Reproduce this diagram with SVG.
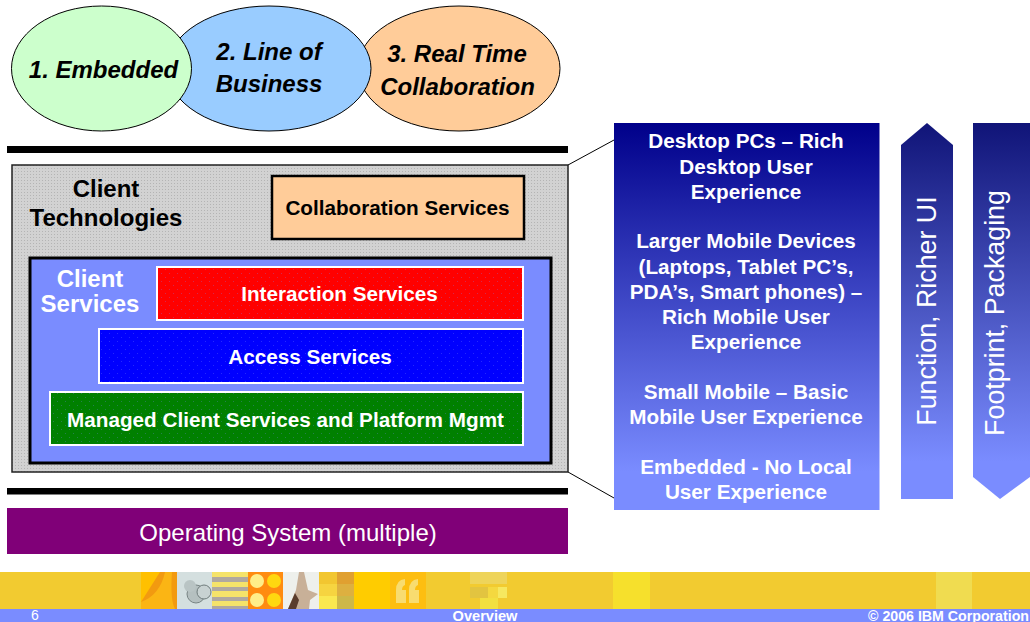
<svg xmlns="http://www.w3.org/2000/svg" width="1030" height="622" viewBox="0 0 1030 622">
<style>
text{font-family:"Liberation Sans",Arial,sans-serif;text-anchor:middle}
.b{font-weight:700}
.bi{font-weight:700;font-style:italic;font-size:24px;fill:#000}
.w{fill:#fff}
.k{fill:#000}
.ell{stroke:#000;stroke-width:1}
.svc{stroke:#fff;stroke-width:2}
.pt{font-size:20.7px;font-weight:700;fill:#fff}
.rot{font-size:26.8px;fill:#fff}
.sp{fill:url(#speck)}
</style>
<defs>
<pattern id="gray" width="3" height="3" patternUnits="userSpaceOnUse"><rect width="3" height="3" fill="#d2d2d2"/><rect width="1" height="1" fill="#b4b4b4"/></pattern>
<pattern id="speck" width="8" height="8" patternUnits="userSpaceOnUse"><rect x="1" y="1" width="1" height="1" fill="#7a86ff" fill-opacity=".3"/><rect x="5" y="5" width="1" height="1" fill="#7a86ff" fill-opacity=".3"/></pattern>
<linearGradient id="grad" x1="0" y1="0" x2="0" y2="1"><stop offset="0" stop-color="#00008a"/><stop offset="0.9" stop-color="#7a8cff"/><stop offset="1" stop-color="#7a8cff"/></linearGradient>
<linearGradient id="grad2" x1="0" y1="0" x2="0" y2="1"><stop offset="0" stop-color="#101478"/><stop offset="0.9" stop-color="#7a8cff"/><stop offset="1" stop-color="#7a8cff"/></linearGradient>
</defs>

<g id="connectors" stroke="#000" stroke-width="1" fill="none">
<line x1="568" y1="165" x2="614" y2="140"/>
<line x1="568" y1="472" x2="614" y2="498"/>
</g>

<g id="segment-realtime"><ellipse class="ell" cx="459" cy="68.5" rx="101" ry="62.5" fill="#ffcc99"/>
<text class="bi" x="457" y="62">3. Real Time</text><text class="bi" x="457.5" y="95">Collaboration</text></g>
<g id="segment-lob"><ellipse class="ell" cx="269" cy="68.5" rx="102" ry="62.5" fill="#99ccff"/>
<text class="bi" x="269" y="60">2. Line of</text><text class="bi" x="269" y="92">Business</text></g>
<g id="segment-embedded"><ellipse class="ell" cx="101.5" cy="68.5" rx="90" ry="62.5" fill="#ccffcc"/>
<text class="bi" x="103.5" y="78" font-size="23.7">1. Embedded</text></g>

<g id="bar-top"><rect x="7" y="146" width="561" height="7" fill="#000"/></g>

<g id="client-technologies"><rect x="12" y="165" width="556" height="307" fill="url(#gray)" stroke="#222" stroke-width="1.5"/>
<text class="b k" font-size="24" x="106" y="197">Client</text><text class="b k" font-size="24" x="106" y="226">Technologies</text></g>
<g id="collaboration-services"><rect x="272" y="176" width="252" height="63" fill="#ffcc99" stroke="#000" stroke-width="2.5"/>
<text class="b k" font-size="20.7" x="397.5" y="215">Collaboration Services</text></g>

<g id="client-services"><rect x="30" y="258" width="521" height="205" fill="#7a8cff" stroke="#000" stroke-width="3"/>
<text class="b w" font-size="24" x="90" y="287">Client</text><text class="b w" font-size="24" x="90" y="312">Services</text></g>
<g id="interaction-services"><rect class="svc" x="157" y="267" width="366" height="53" fill="#ff0000"/><rect class="sp" x="158" y="268" width="364" height="51"/>
<text class="b w" font-size="20.7" x="339.5" y="301">Interaction Services</text></g>
<g id="access-services"><rect class="svc" x="99" y="329" width="424" height="54" fill="#0000ff"/><rect class="sp" x="100" y="330" width="422" height="52"/>
<text class="b w" font-size="20.7" x="310" y="364">Access Services</text></g>
<g id="managed-services"><rect class="svc" x="50" y="392" width="473" height="53" fill="#008000"/><rect class="sp" x="51" y="393" width="471" height="51"/>
<text class="b w" font-size="20.7" x="285.5" y="427">Managed Client Services and Platform Mgmt</text></g>

<g id="bar-bottom"><rect x="7" y="488" width="561" height="6.5" fill="#000"/></g>
<g id="operating-system"><rect x="7" y="508" width="561" height="46" fill="#800078"/>
<text class="w" font-size="24" x="288" y="541">Operating System (multiple)</text></g>

<g id="experience-panel"><rect x="614" y="123" width="265.5" height="387" fill="url(#grad)"/>
<text class="pt" x="746" y="148">Desktop PCs – Rich</text>
<text class="pt" x="746" y="174">Desktop User</text>
<text class="pt" x="746" y="199">Experience</text>
<text class="pt" x="746" y="248">Larger Mobile Devices</text>
<text class="pt" x="746" y="274">(Laptops, Tablet PC’s,</text>
<text class="pt" x="746" y="299">PDA’s, Smart phones) –</text>
<text class="pt" x="746" y="324">Rich Mobile User</text>
<text class="pt" x="746" y="349">Experience</text>
<text class="pt" x="746" y="399">Small Mobile – Basic</text>
<text class="pt" x="746" y="424">Mobile User Experience</text>
<text class="pt" x="746" y="474">Embedded - No Local</text>
<text class="pt" x="746" y="499">User Experience</text></g>

<g id="function-arrow"><polygon points="901,145 927,123 953,145 953,499 901,499" fill="url(#grad2)"/>
<text class="rot" transform="translate(936 311) rotate(-90)">Function, Richer UI</text></g>
<g id="footprint-arrow"><polygon points="973,123 1030,123 1030,477 1000,499 973,477" fill="url(#grad2)"/>
<text class="rot" transform="translate(1004 313) rotate(-90)">Footprint, Packaging</text></g>

<g id="footer"><rect x="0" y="572" width="1030" height="37" fill="#f2cb30"/>
<rect x="141" y="572" width="36" height="37" fill="#ffc000"/>
<path d="M141 602 L160 572 L177 572 L177 609 L141 609Z" fill="#f29a10"/><path d="M141 602 Q160 595 165 572 L172 572 Q170 600 175 609 L141 609Z" fill="#fbb514"/>
<rect x="177" y="572" width="35" height="37" fill="#d4dfdf"/><circle cx="196" cy="594" r="9" fill="#b5c0c0" stroke="#788484"/><circle cx="204" cy="592" r="7" fill="#c8d2d2" stroke="#707c7c"/><circle cx="190" cy="586" r="6" fill="#b9c4c4"/>
<rect x="212" y="572" width="36" height="37" fill="#f5e36a"/><rect x="212" y="577" width="36" height="5" fill="#b0a8a0"/><rect x="212" y="587" width="36" height="4" fill="#b0a8a0"/><rect x="212" y="597" width="36" height="4" fill="#b0a8a0"/><rect x="212" y="606" width="36" height="3" fill="#b0a8a0"/>
<rect x="248" y="572" width="35" height="37" fill="#ff8c10"/><circle cx="257" cy="581" r="7" fill="#ffee88"/><circle cx="274" cy="581" r="7" fill="#ffd810"/><circle cx="257" cy="600" r="7" fill="#ffee88"/><circle cx="274" cy="600" r="7" fill="#ffd810"/>
<rect x="283" y="572" width="36" height="37" fill="#eef0ec"/><path d="M288 609 L296 590 L299 572 L304 572 L308 590 L318 594 L310 600 L309 609Z" fill="#c8b098"/><path d="M288 609 L295 593 L299 600 L296 609Z" fill="#5a3c2c"/>
<rect x="319" y="572" width="18" height="12" fill="#f2c630"/><rect x="337" y="572" width="17" height="12" fill="#e0a030"/><rect x="319" y="584" width="18" height="12" fill="#f6d440"/><rect x="337" y="584" width="17" height="12" fill="#ddb040"/><rect x="319" y="596" width="18" height="13" fill="#fae850"/><rect x="337" y="596" width="17" height="13" fill="#cdb848"/>
<rect x="354" y="572" width="36" height="37" fill="#ffcc00"/>
<rect x="390" y="572" width="36" height="37" fill="#fdbe10"/><path d="M396 603V590Q396 580 405 579V585Q402 586 402 590H406V603ZM409 603V590Q409 580 418 579V585Q415 586 415 590H419V603Z" fill="#f8dc70"/>
<rect x="470" y="572" width="37" height="12" fill="#eed45a"/><rect x="470" y="587" width="18" height="11" fill="#e2c440"/><rect x="488" y="587" width="10" height="11" fill="#f4d840"/><rect x="498" y="587" width="9" height="11" fill="#f6e860"/><rect x="480" y="598" width="18" height="11" fill="#f2e040"/>
<rect x="613" y="572" width="37" height="37" fill="#f6e02c"/>
<rect x="936" y="572" width="36" height="37" fill="#f0dc50"/>
<rect x="0" y="609" width="1030" height="13" fill="#7a8cff"/>
<text class="w" font-size="14" x="35" y="620">6</text>
<text class="b w" font-size="14.6" x="485" y="621">Overview</text>
<text class="b w" font-size="14.2" x="948.5" y="621">© 2006 IBM Corporation</text></g>
</svg>
